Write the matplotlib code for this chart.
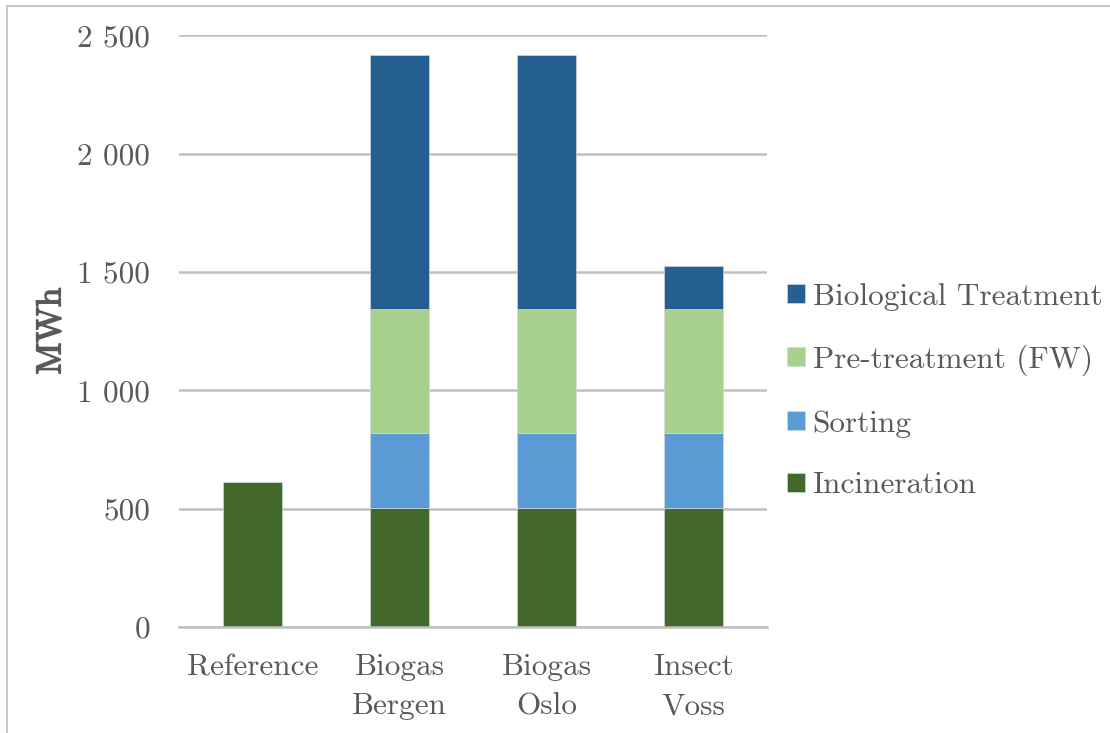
import matplotlib.pyplot as plt
import matplotlib.patheffects as pe
import numpy as np
from matplotlib.lines import Line2D
from matplotlib.ticker import FuncFormatter

# energy use per scenario, MWh
categories = ["Reference", "Biogas\nBergen", "Biogas\nOslo", "Insect\nVoss"]
incineration = [612, 504, 504, 504]
sorting = [0, 316, 316, 316]
pretreatment = [0, 522, 522, 522]
biological = [0, 1075, 1075, 184]

series = [
    ("Incineration", incineration, "#43682B"),
    ("Sorting", sorting, "#5B9BD5"),
    ("Pre-treatment (FW)", pretreatment, "#A9D18E"),
    ("Biological Treatment", biological, "#255E91"),
]

plt.rcParams['font.family'] = ['cmr10', 'DejaVu Serif']
plt.rcParams['axes.formatter.use_mathtext'] = True
txt = "#595959"
grid = "#C0C0C0"
fs = 22.5

fig = plt.figure(figsize=(11.1, 7.33), dpi=100)
ax = fig.add_axes([0.1613, 0.1446, 0.5297, 0.8074])

x = np.arange(len(categories))
bottom = np.zeros(len(categories))
for name, vals, col in series:
    ax.bar(x, vals, 0.4, bottom=bottom, color=col, label=name,
           edgecolor="#D0D6DC", linewidth=0.5, zorder=3)
    bottom += np.array(vals)

ax.set_xlim(-0.5, len(categories) - 0.5)
ax.set_ylim(0, 2500)
ax.set_yticks(np.arange(0, 2501, 500))
ax.yaxis.set_major_formatter(FuncFormatter(
    lambda v, p: f"{int(v):,}".replace(",", " ")))
ax.set_xticks(x)
ax.set_xticklabels(categories, linespacing=1.5)
ax.tick_params(axis='both', length=0, labelsize=fs, colors=txt)
ax.tick_params(axis='x', pad=19)
ax.tick_params(axis='y', pad=21)

ax.grid(axis='y', color=grid, linewidth=1.8, zorder=0)
for s in ["top", "left", "right"]:
    ax.spines[s].set_visible(False)
ax.spines["bottom"].set_color(grid)
ax.spines["bottom"].set_linewidth(1.8)
ax.spines["bottom"].set_zorder(4)

# bold-looking axis title: regular CM face thickened with a stroke
ax.set_ylabel("MWh", fontsize=25, color=txt,
              path_effects=[pe.withStroke(linewidth=1.1, foreground=txt)])
ax.yaxis.set_label_coords(-0.19, 0.5)

h, l = ax.get_legend_handles_labels()
leg = fig.legend(h[::-1], l[::-1], loc="center left",
                 bbox_to_anchor=(0.709, 0.4666), frameon=False,
                 borderpad=0, borderaxespad=0,
                 fontsize=fs, labelcolor=txt, handlelength=0.57,
                 handleheight=0.57, handletextpad=0.25, labelspacing=1.08)

# thin frame along the top and left of the figure
fig.add_artist(Line2D([7 / 1110, 1], [1 - 6 / 733, 1 - 6 / 733],
                      color="#C8C8C8", linewidth=1.5))
fig.add_artist(Line2D([7 / 1110, 7 / 1110], [0, 1 - 6 / 733],
                      color="#C8C8C8", linewidth=1.5))

fig.savefig("out.png", dpi=100)
